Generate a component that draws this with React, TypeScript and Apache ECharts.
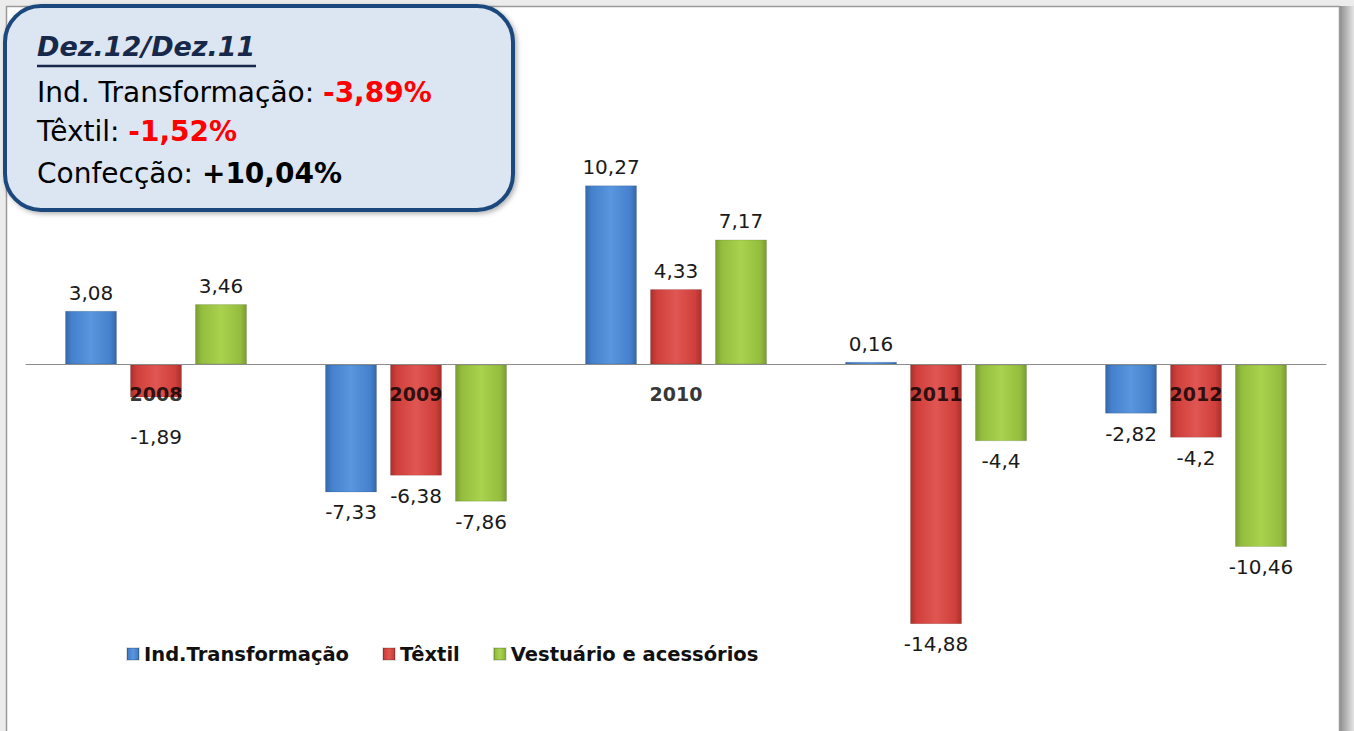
import React, { useEffect, useRef } from "react";
import * as echarts from "echarts";

const categories = ["2008", "2009", "2010", "2011", "2012"];
const seriesNames = ["Ind.Transformação", "Têxtil", "Vestuário e acessórios"];
const indTransformacao = [3.08, -7.33, 10.27, 0.16, -2.82];
const textil = [-1.89, -6.38, 4.33, -14.88, -4.2];
const vestuario = [3.46, -7.86, 7.17, -4.4, -10.46];

const calloutTitle = "Dez.12/Dez.11";
const calloutLabels = ["Ind. Transformação: ", "Têxtil: ", "Confecção: "];
const calloutValues = ["-3,89%", "-1,52%", "+10,04%"];
const calloutValueColors = ["#FF0000", "#FF0000", "#000000"];

const FONT = "'DejaVu Sans', Verdana, sans-serif";
const CALLOUT_FONT = "'Comic Sans MS', 'DejaVu Sans', sans-serif";

const palettes = [
  { edge: "#3567A8", base: "#4480CC", light: "#5A96DE" },
  { edge: "#A8302C", base: "#CF3F3B", light: "#E05652" },
  { edge: "#7A9B32", base: "#94BD3E", light: "#A9D24E" },
];

function barGradient(p: { edge: string; base: string; light: string }) {
  return new echarts.graphic.LinearGradient(0, 0, 1, 0, [
    { offset: 0, color: p.edge },
    { offset: 0.12, color: p.base },
    { offset: 0.5, color: p.light },
    { offset: 0.88, color: p.base },
    { offset: 1, color: p.edge },
  ]);
}

function fmt(v: number) {
  return String(v).replace(".", ",");
}

export default function App() {
  const ref = useRef<HTMLDivElement>(null);
  useEffect(() => {
    if (!ref.current) return;
    const chart = echarts.init(ref.current, null, { renderer: "svg" });
    const all = [indTransformacao, textil, vestuario];
    const series: any[] = all.map((vals, si) => ({
      name: seriesNames[si],
      type: "bar",
      barWidth: 52,
      barGap: "25%",
      itemStyle: {
        color: barGradient(palettes[si]),
        borderColor: "rgba(0,0,0,0.12)",
        borderWidth: 1,
      },
      label: {
        show: true,
        fontFamily: FONT,
        fontSize: 20,
        color: "#1a1a1a",
        formatter: (p: any) => fmt(p.value),
      },
      data: vals.map((v, i) => ({
        value: v,
        label: {
          position: v >= 0 ? "top" : "bottom",
          distance: v >= 0 ? 8 : si === 1 && i === 0 ? 30 : 10,
        },
      })),
    }));

    // category labels drawn at the zero line (as in the original chart)
    series.push({
      name: "cat",
      type: "scatter",
      symbolSize: 0,
      z: 6,
      silent: true,
      label: {
        show: true,
        position: "bottom",
        distance: 20,
        fontFamily: FONT,
        fontWeight: "bold",
        fontSize: 19,
        color: "#000",
        formatter: (p: any) => p.name,
      },
      data: categories.map((c) => [c, 0]),
    });

    const calloutTexts: any[] = [];
    calloutLabels.forEach((lab, i) => {
      calloutTexts.push({
        type: "text",
        left: 37,
        top: [78, 117, 159][i],
        z: 102,
        style: {
          text: `{a|${lab}}{b|${calloutValues[i]}}`,
          rich: {
            a: { fontFamily: CALLOUT_FONT, fontSize: 28, fill: "#000" },
            b: {
              fontFamily: CALLOUT_FONT,
              fontSize: 28,
              fontWeight: "bold",
              fill: calloutValueColors[i],
            },
          },
        },
      });
    });

    chart.setOption({
      animation: false,
      backgroundColor: "#ffffff",
      grid: {
        left: 26,
        right: 28,
        top: 85.3,
        bottom: 17.5,
        containLabel: false,
        outerBoundsMode: "none",
      },
      xAxis: {
        type: "category",
        data: categories,
        z: 10,
        axisLine: { onZero: true, lineStyle: { color: "#8c8c8c", width: 1 } },
        axisTick: { show: false },
        axisLabel: { show: false },
      },
      yAxis: {
        type: "value",
        min: -20,
        max: 16,
        show: false,
        splitLine: { show: false },
      },
      legend: {
        data: seriesNames,
        left: 121,
        top: 639,
        icon: "rect",
        itemWidth: 12,
        itemHeight: 12,
        itemGap: 33,
        textStyle: {
          fontFamily: FONT,
          fontWeight: "bold",
          fontSize: 19.5,
          color: "#111",
        },
      },
      graphic: [
        {
          type: "rect",
          z: -10,
          silent: true,
          shape: { x: 0, y: 0, width: 1354, height: 731 },
          style: { fill: "#ececec" },
        },
        {
          type: "rect",
          z: -9,
          silent: true,
          shape: { x: 1340, y: 6, width: 14, height: 725 },
          style: {
            fill: new echarts.graphic.LinearGradient(0, 0, 1, 0, [
              { offset: 0, color: "#8f8f8f" },
              { offset: 1, color: "#e4e4e4" },
            ]),
          },
        },
        {
          type: "rect",
          z: -8,
          silent: true,
          shape: { x: 6.5, y: 6.5, width: 1333, height: 740 },
          style: { fill: "#ffffff", stroke: "#9a9a9a", lineWidth: 1.5 },
        },
        {
          type: "rect",
          z: 100,
          silent: true,
          shape: { x: 5, y: 6, width: 508, height: 204, r: 36 },
          style: {
            fill: "#DCE6F2",
            stroke: "#1F497D",
            lineWidth: 4,
            shadowBlur: 5,
            shadowOffsetX: 2,
            shadowOffsetY: 2,
            shadowColor: "rgba(0,0,0,0.3)",
          },
        },
        {
          type: "text",
          left: 37,
          top: 33,
          z: 102,
          style: {
            text: calloutTitle,
            fontFamily: CALLOUT_FONT,
            fontSize: 27,
            fontWeight: "bold",
            fontStyle: "italic",
            fill: "#17294A",
          },
        },
        {
          type: "line",
          z: 102,
          silent: true,
          shape: { x1: 37, y1: 66, x2: 256, y2: 66 },
          style: { stroke: "#17294A", lineWidth: 2.5 },
        },
        ...calloutTexts,
      ],
      series,
    });
    return () => chart.dispose();
  }, []);
  return (
    <div
      ref={ref}
      style={{ position: "absolute", left: 0, top: 0, width: 1354, height: 731 }}
    />
  );
}
